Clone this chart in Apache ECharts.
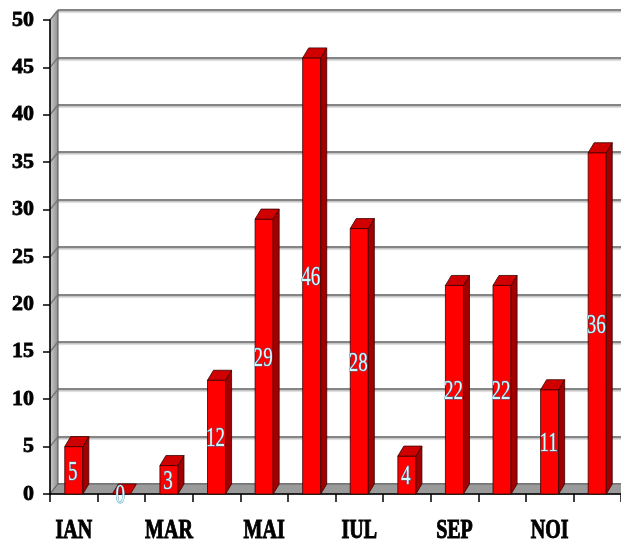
<!DOCTYPE html>
<html>
<head>
<meta charset="utf-8">
<script src="https://cdn.jsdelivr.net/npm/echarts@6/dist/echarts.min.js"></script>
<style>
  html, body { margin: 0; padding: 0; background: #ffffff; }
  #chart { width: 621px; height: 545px; }
</style>
</head>
<body>
<div id="chart"></div>
<script>
// Monthly counts (Romanian month abbreviations)
const months = ['IAN', 'FEB', 'MAR', 'APR', 'MAI', 'IUN', 'IUL', 'AUG', 'SEP', 'OCT', 'NOI', 'DEC'];
const counts = [5, 0, 3, 12, 29, 46, 28, 4, 22, 22, 11, 36];
const yTicks = [0, 5, 10, 15, 20, 25, 30, 35, 40, 45, 50];

// Plot frame and the pseudo-3D depth offset of walls and columns
const GL = 50, GT = 20, GW = 574, GH = 474;
const DX = 8, DY = -10;     // wall depth
const BDX = 6, BDY = -10;   // column depth
const yMax = yTicks[yTicks.length - 1];
const yStep = yTicks[1] - yTicks[0];
const SERIF = '"Liberation Serif", "Times New Roman", serif';

const chart = echarts.init(document.getElementById('chart'));

// Left side wall, its diagonal grid edges, and the floor slab
const wallGraphics = [];
wallGraphics.push({
  type: 'polygon', z: 1,
  shape: { points: [[GL, GT], [GL + DX, GT + DY], [GL + DX, GT + GH + DY], [GL, GT + GH]] },
  style: {
    fill: new echarts.graphic.LinearGradient(0, 0, 1, 0, [
      { offset: 0, color: '#d0d0d0' }, { offset: 1, color: '#8c8c8c' }
    ]),
    stroke: '#555', lineWidth: 1
  }
});
yTicks.forEach(t => {
  const y = GT + GH - (t / yMax) * GH;
  wallGraphics.push({
    type: 'line', z: 1,
    shape: { x1: GL, y1: y, x2: GL + DX, y2: y + DY },
    style: { stroke: '#777', lineWidth: 1.5 }
  });
});
wallGraphics.push({
  type: 'polygon', z: 1,
  shape: { points: [[GL, GT + GH], [GL + DX, GT + GH + DY], [GL + GW + DX, GT + GH + DY], [GL + GW, GT + GH]] },
  style: { fill: '#9a9a9a', stroke: '#666', lineWidth: 1 }
});

function renderColumn(params, api) {
  const i = api.value(0);
  const v = api.value(1);
  const base = api.coord([i, 0]);
  const top = api.coord([i, v]);
  const band = api.size([1, 0])[0];
  const w = band * 0.38;
  const x0 = base[0] - w / 2, x1 = base[0] + w / 2;
  const y0 = base[1], y1 = top[1];
  const edge = '#3a0000';
  const children = [];
  if (y0 - y1 > 0.5) {
    children.push({
      type: 'rect',
      shape: { x: x0, y: y1, width: w, height: y0 - y1 },
      style: { fill: '#ff0000', stroke: edge, lineWidth: 0.8 }
    });
    children.push({
      type: 'polygon',
      shape: { points: [[x1, y1], [x1 + BDX, y1 + BDY], [x1 + BDX, y0 + BDY], [x1, y0]] },
      style: { fill: '#a00000', stroke: edge, lineWidth: 0.8 }
    });
  }
  children.push({
    type: 'polygon',
    shape: { points: [[x0, y1], [x0 + BDX, y1 + BDY], [x1 + BDX, y1 + BDY], [x1, y1]] },
    style: { fill: '#d00000', stroke: edge, lineWidth: 0.8 }
  });
  // value label, centred on the front face
  children.push({
    type: 'text',
    x: base[0] - 1, y: (y0 + y1) / 2 + 2,
    scaleX: 0.68,
    style: {
      text: String(counts[i]), x: 0, y: 0,
      align: 'center', verticalAlign: 'middle',
      fontFamily: SERIF, fontSize: 28,
      fill: '#ccffff', stroke: '#4a7aa8', lineWidth: 1
    }
  });
  // category label on every other month
  if (i % 2 === 0) {
    children.push({
      type: 'text',
      x: base[0], y: y0 + 37,
      scaleX: 0.74,
      style: {
        text: months[i], x: 0, y: 0,
        align: 'center', verticalAlign: 'middle',
        fontFamily: SERIF, fontWeight: 'bold', fontSize: 27,
        fill: '#000', stroke: '#000', lineWidth: 1
      }
    });
  }
  return { type: 'group', children };
}

chart.setOption({
  animation: false,
  backgroundColor: '#ffffff',
  grid: [
    { left: GL, top: GT, width: GW, height: GH },
    { left: GL + DX, top: GT + DY, width: GW, height: GH }
  ],
  xAxis: [
    {
      type: 'category', gridIndex: 0, data: months,
      axisLine: { show: true, lineStyle: { color: '#000', width: 1.5 } },
      axisTick: { show: true, length: 8, lineStyle: { color: '#000', width: 1.5 } },
      axisLabel: { show: false },
      splitLine: { show: false },
      z: 3
    },
    { type: 'value', gridIndex: 1, show: false, min: 0, max: 1 }
  ],
  yAxis: [
    {
      type: 'value', gridIndex: 0, min: 0, max: yMax, interval: yStep,
      axisLine: { show: true, lineStyle: { color: '#000', width: 1.5 } },
      axisTick: { show: true, length: 7, lineStyle: { color: '#000', width: 1.5 } },
      axisLabel: {
        margin: 16, color: '#000',
        fontFamily: SERIF, fontWeight: 'bold', fontSize: 22,
        textBorderColor: '#000', textBorderWidth: 0.8
      },
      splitLine: { show: false },
      z: 3
    },
    {
      type: 'value', gridIndex: 1, min: 0, max: yMax, interval: yStep,
      axisLine: { show: false }, axisTick: { show: false }, axisLabel: { show: false },
      splitLine: {
        show: true,
        lineStyle: { color: '#858585', width: 2, shadowColor: 'rgba(0,0,0,0.25)', shadowOffsetY: 1.5, shadowBlur: 1 }
      }
    }
  ],
  graphic: wallGraphics,
  series: [
    {
      type: 'custom',
      xAxisIndex: 0, yAxisIndex: 0,
      data: counts.map((c, i) => [i, c]),
      renderItem: renderColumn,
      clip: false,
      z: 5
    }
  ]
});
</script>
</body>
</html>
